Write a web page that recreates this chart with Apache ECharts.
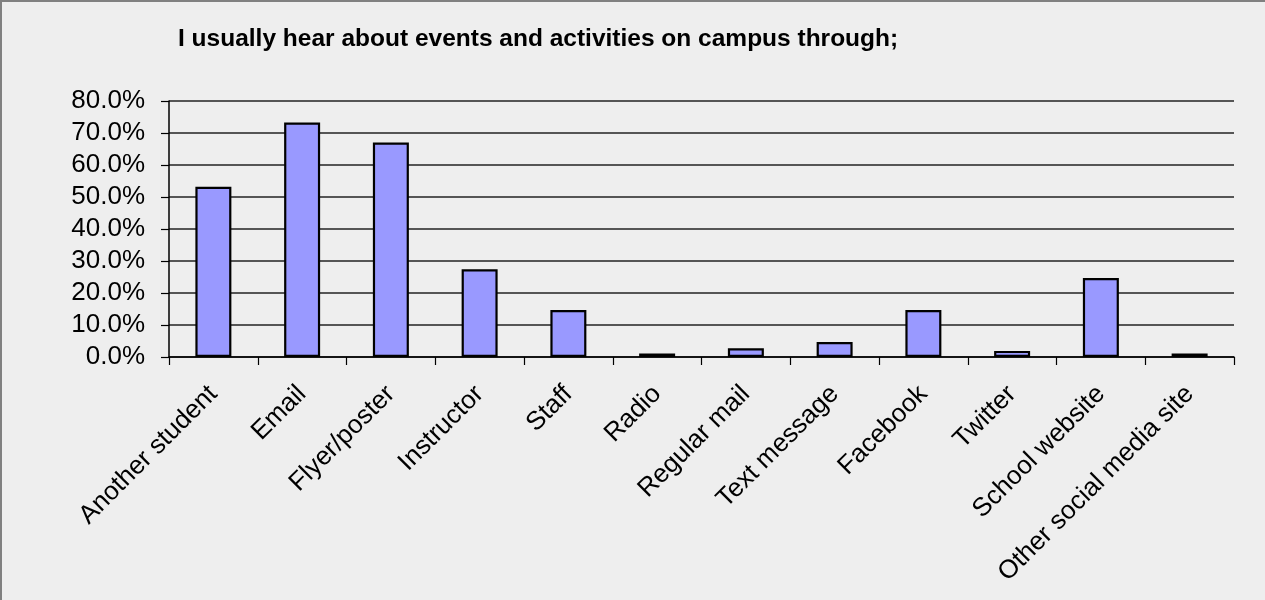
<!DOCTYPE html>
<html>
<head>
<meta charset="utf-8">
<script src="https://cdn.jsdelivr.net/npm/echarts@6/dist/echarts.min.js"></script>
<style>
html,body{margin:0;padding:0;background:#eeeeee;}
#chart{width:1265px;height:600px;}
</style>
</head>
<body>
<div id="chart"></div>
<script>
const titleText = 'I usually hear about events and activities on campus through;';
const categories = ['Another student','Email','Flyer/poster','Instructor','Staff','Radio','Regular mail','Text message','Facebook','Twitter','School website','Other social media site'];
const percentValues = [53.2, 73.3, 67.0, 27.4, 14.7, 1.1, 2.7, 4.7, 14.7, 1.9, 24.7, 1.1];
const yTicks = [0, 10, 20, 30, 40, 50, 60, 70, 80];

const FONT = '"Liberation Sans", Arial, sans-serif';
const chart = echarts.init(document.getElementById('chart'), null, {renderer:'canvas'});
chart.setOption({
  backgroundColor: '#eeeeee',
  animation: false,
  title: {
    text: titleText,
    left: 173,
    top: 22,
    textStyle: {fontFamily: FONT, fontSize: 24.5, fontWeight: 'bold', color: '#000'}
  },
  graphic: [
    {type:'line', shape:{x1:1, y1:0, x2:1, y2:600}, style:{stroke:'#808080', lineWidth:2}},
    {type:'line', shape:{x1:0, y1:1, x2:1265, y2:1}, style:{stroke:'#808080', lineWidth:2}}
  ],
  grid: {left: 169, right: 31, top: 101, bottom: 243, containLabel: false},
  xAxis: {
    type: 'category',
    data: categories,
    boundaryGap: true,
    axisLine: {show: true, lineStyle: {color: '#000', width: 1.5}},
    axisTick: {show: true, inside: false, length: 8, alignWithLabel: false, lineStyle: {color: '#000', width: 1.2}},
    axisLabel: {rotate: 45, interval: 0, margin: 33, fontFamily: FONT, fontSize: 26, color: '#000'},
    splitLine: {show: false}
  },
  yAxis: {
    type: 'value',
    min: 0, max: 80, interval: 10,
    axisLine: {show: true, lineStyle: {color: '#000', width: 1.5}},
    axisTick: {show: true, inside: false, length: 8, lineStyle: {color: '#000', width: 1.2}},
    axisLabel: {margin: 24, fontFamily: FONT, fontSize: 26, color: '#000',
      formatter: v => yTicks.includes(v) ? v.toFixed(1) + '%' : ''},
    splitLine: {show: true, lineStyle: {color: '#222', width: 1.5}}
  },
  series: [{
    type: 'bar',
    data: percentValues,
    barWidth: 36,
    itemStyle: {color: '#9999ff', borderColor: '#000', borderWidth: 2.2}
  }]
});
</script>
</body>
</html>
